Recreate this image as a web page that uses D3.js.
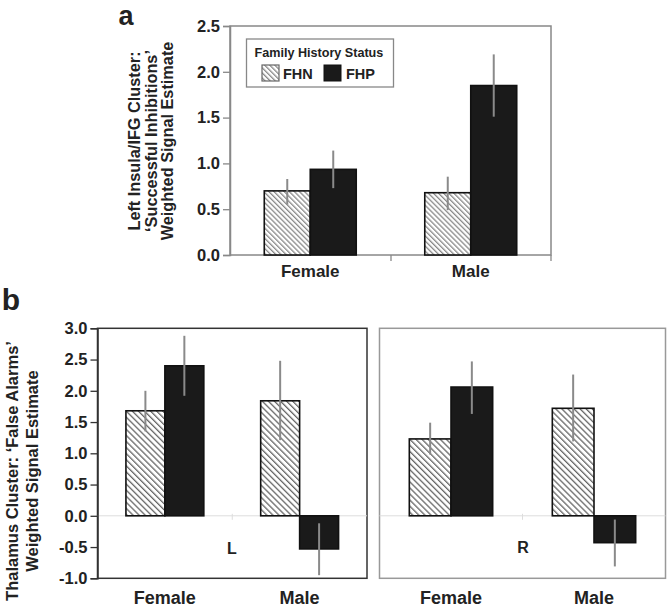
<!DOCTYPE html>
<html><head><meta charset="utf-8">
<script src="https://cdn.jsdelivr.net/npm/d3@7/dist/d3.min.js"></script>
<style>body{margin:0;background:#fff}svg{display:block}text{font-family:"Liberation Sans",Arial,sans-serif;font-weight:bold;fill:#222}</style>
</head><body><svg id="c" width="667" height="609"></svg>
<script>
const categories = ["Female", "Male"];
const series = ["FHN", "FHP"];
// Panel a: Left Insula/IFG, Successful Inhibitions
const aFHN = [0.70, 0.68], aFHP = [0.935, 1.85];
const aFHNlo = [0.55, 0.49], aFHNhi = [0.83, 0.855];
const aFHPlo = [0.73, 1.51], aFHPhi = [1.14, 2.19];
const aTicks = [0, 0.5, 1.0, 1.5, 2.0, 2.5];
// Panel b left (L): Thalamus, False Alarms
const bLFHN = [1.68, 1.84], bLFHP = [2.40, -0.53];
const bLFHNlo = [1.35, 1.21], bLFHNhi = [2.00, 2.48];
const bLFHPlo = [1.92, -0.95], bLFHPhi = [2.88, -0.12];
// Panel b right (R)
const bRFHN = [1.23, 1.72], bRFHP = [2.06, -0.43];
const bRFHNlo = [0.98, 1.19], bRFHNhi = [1.49, 2.26];
const bRFHPlo = [1.63, -0.81], bRFHPhi = [2.47, -0.06];
const bTicks = [-1.0, -0.5, 0, 0.5, 1.0, 1.5, 2.0, 2.5, 3.0];

const svg = d3.select("#c");
const defs = svg.append("defs");
function hatch(id, s, col) {
  const p = defs.append("pattern").attr("id", id).attr("patternUnits", "userSpaceOnUse")
    .attr("width", s).attr("height", s).attr("patternTransform", "rotate(-45)");
  p.append("rect").attr("width", s).attr("height", s).attr("fill", "#fff");
  p.append("line").attr("x1", 0.6).attr("y1", 0).attr("x2", 0.6).attr("y2", s)
    .attr("stroke", col).attr("stroke-width", 1.4);
}
hatch("hA", 3.6, "#888"); hatch("hB", 4.3, "#666");
const fmt = v => (v < 0 ? "-" : "") + Math.abs(v).toFixed(1);

function panel(o) {
  const g = svg.append("g");
  const x = d3.scaleBand().domain(categories).range([o.x0, o.x1]).paddingInner(o.pad).paddingOuter(o.pad / 2);
  const xs = d3.scaleBand().domain(series).range([0, x.bandwidth()]);
  const y = d3.scaleLinear().domain(o.dom).range([o.y0, o.y1]);
  g.append("rect").attr("x", o.x0).attr("y", y(o.dom[1])).attr("width", o.x1 - o.x0)
    .attr("height", y(o.dom[0]) - y(o.dom[1])).attr("fill", "none").attr("stroke", o.frame).attr("stroke-width", 1.5);
  const zero = y(0);
  if (o.zeroLine) {
    g.append("line").attr("x1", o.x0).attr("x2", o.x1).attr("y1", zero).attr("y2", zero)
      .attr("stroke", "#ddd").attr("stroke-width", 1);
    const bx = (x("Female") + x.bandwidth() + x("Male")) / 2;
    g.append("line").attr("x1", bx).attr("x2", bx).attr("y1", zero - 2).attr("y2", zero + 4).attr("stroke", "#ddd");
  }
  if (o.axis) {
    const ax = g.append("g").attr("transform", `translate(${o.x0},0)`)
      .call(d3.axisLeft(y).tickValues(o.ticks).tickFormat(fmt).tickSize(7).tickPadding(3));
    ax.select(".domain").attr("stroke", o.frame).attr("stroke-width", 1.5);
    ax.selectAll(".tick line").attr("stroke", o.frame).attr("stroke-width", 1.3);
    ax.selectAll("text").style("font-size", o.tickFs + "px").attr("fill", "#222");
  }
  const vals = {FHN: o.fhn, FHP: o.fhp};
  const lo = {FHN: o.fhnLo, FHP: o.fhpLo}, hi = {FHN: o.fhnHi, FHP: o.fhpHi};
  series.forEach(s => {
    categories.forEach((c, i) => {
      const v = vals[s][i];
      g.append("rect").attr("x", x(c) + xs(s)).attr("width", xs.bandwidth())
        .attr("y", Math.min(y(v), zero)).attr("height", Math.abs(y(v) - zero))
        .attr("fill", s === "FHN" ? `url(#${o.hatch})` : "#1a1a1a")
        .attr("stroke", "#111").attr("stroke-width", 1.6);
      const cx = x(c) + xs(s) + xs.bandwidth() / 2;
      g.append("line").attr("x1", cx).attr("x2", cx).attr("y1", y(lo[s][i])).attr("y2", y(hi[s][i]))
        .attr("stroke", "#8a8a8a").attr("stroke-width", 2);
    });
  });
  categories.forEach(c => {
    g.append("text").attr("x", x(c) + x.bandwidth() / 2).attr("y", o.labY).attr("text-anchor", "middle")
      .style("font-size", o.labFs + "px").text(c);
  });
  return {x, y, g};
}

// Panel a
const pa = panel({x0: 230, x1: 551, pad: 0.427, dom: [0, 2.5], y0: 255, y1: 26, frame: "#888", axis: true,
  ticks: aTicks, tickFs: 16.5, fhn: aFHN, fhp: aFHP, fhnLo: aFHNlo, fhnHi: aFHNhi, fhpLo: aFHPlo, fhpHi: aFHPhi,
  hatch: "hA", labY: 277, labFs: 17});
[391, 551].forEach(t => pa.g.append("line").attr("x1", t).attr("x2", t).attr("y1", 255).attr("y2", 261).attr("stroke", "#888").attr("stroke-width", 1.3));

// Legend
const lg = svg.append("g");
lg.append("rect").attr("x", 246.5).attr("y", 39).attr("width", 147).attr("height", 48).attr("fill", "#fff").attr("stroke", "#888").attr("stroke-width", 1.3);
lg.append("text").attr("x", 254.5).attr("y", 57).style("font-size", "12.6px").text("Family History Status");
lg.append("rect").attr("x", 262).attr("y", 65).attr("width", 17).attr("height", 16).attr("fill", "url(#hA)").attr("stroke", "#666").attr("stroke-width", 1.2);
lg.append("text").attr("x", 283).attr("y", 78.5).style("font-size", "14.5px").text(series[0]);
lg.append("rect").attr("x", 324).attr("y", 65).attr("width", 17).attr("height", 16).attr("fill", "#1a1a1a").attr("stroke", "#111");
lg.append("text").attr("x", 346).attr("y", 78.5).style("font-size", "14.5px").text(series[1]);

// Panel a titles
svg.append("text").attr("x", 126).attr("y", 25).style("font-size", "27px").text("a").attr("text-anchor", "middle");
const ta = svg.append("text").attr("transform", "translate(140,141) rotate(-90)").attr("text-anchor", "middle").style("font-size", "16.3px");
["Left Insula/IFG Cluster:", "\u2018Successful Inhibitions\u2019", "Weighted Signal Estimate"].forEach((t, i) =>
  ta.append("tspan").attr("x", 0).attr("dy", i === 0 ? 0 : 16.5).text(t));

// Panel b
const pL = panel({x0: 97.5, x1: 367, pad: 0.422, dom: [-1, 3], y0: 578.3, y1: 328.3, frame: "#333", axis: true,
  ticks: bTicks, tickFs: 16.5, fhn: bLFHN, fhp: bLFHP, fhnLo: bLFHNlo, fhnHi: bLFHNhi, fhpLo: bLFHPlo, fhpHi: bLFHPhi,
  hatch: "hB", labY: 604, labFs: 18, zeroLine: true});
const pR = panel({x0: 379.5, x1: 665.5, pad: 0.417, dom: [-1, 3], y0: 578.3, y1: 328.3, frame: "#999", axis: false,
  fhn: bRFHN, fhp: bRFHP, fhnLo: bRFHNlo, fhnHi: bRFHNhi, fhpLo: bRFHPlo, fhpHi: bRFHPhi,
  hatch: "hB", labY: 604, labFs: 18, zeroLine: true});
svg.append("text").attr("x", 232).attr("y", 554).attr("text-anchor", "middle").style("font-size", "16px").text("L");
svg.append("text").attr("x", 523).attr("y", 553).attr("text-anchor", "middle").style("font-size", "16px").text("R");
svg.append("text").attr("x", 11).attr("y", 310).attr("text-anchor", "middle").style("font-size", "30px").text("b");
const tb = svg.append("text").attr("transform", "translate(18,471) rotate(-90)").attr("text-anchor", "middle").style("font-size", "16.5px");
["Thalamus Cluster: \u2018False Alarms\u2019", "Weighted Signal Estimate"].forEach((t, i) =>
  tb.append("tspan").attr("x", 0).attr("dy", i === 0 ? 0 : 20).text(t));
</script></body></html>
